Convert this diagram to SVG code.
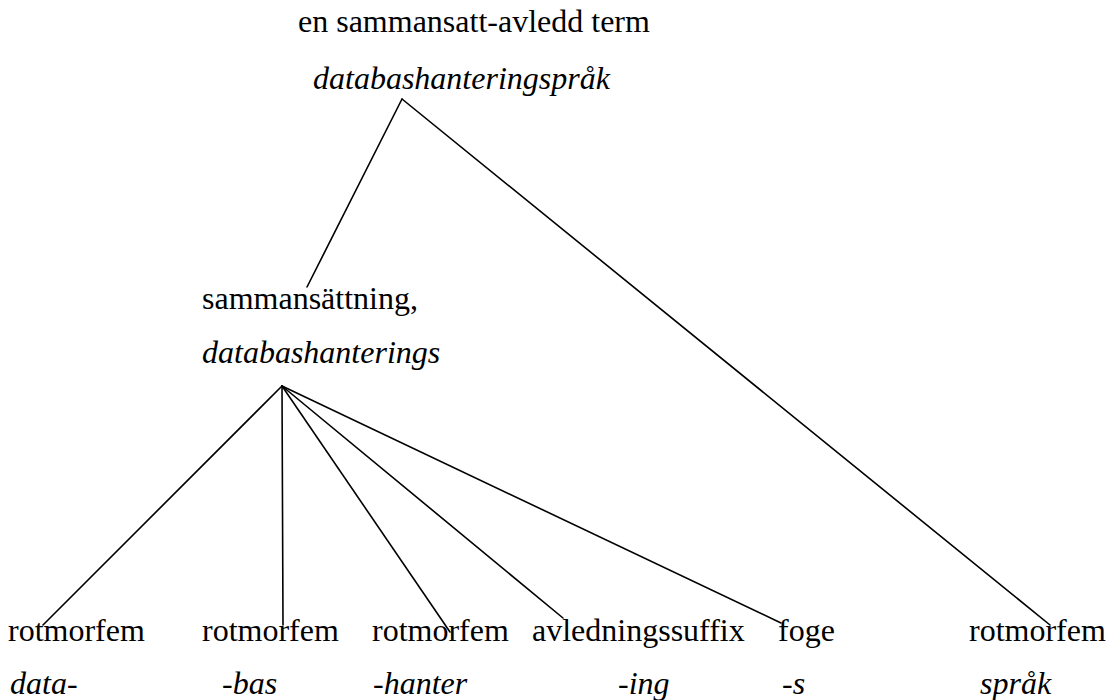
<svg xmlns="http://www.w3.org/2000/svg" width="1110" height="700" viewBox="0 0 1110 700">
  <defs>
    <style>
      .label { font-size: 32px; fill: #000; }
      .form { font-style: italic; }
      .edge { stroke: #000; stroke-width: 1.6; fill: none; stroke-linecap: round; }
    </style>
  </defs>
  <rect width="1110" height="700" fill="#fff"/>

  <!-- tree edges -->
  <g id="connectors">
    <line class="edge" x1="402" y1="99" x2="307" y2="287"/>
    <line class="edge" x1="402" y1="99" x2="1050" y2="625"/>
    <line class="edge" x1="282" y1="386" x2="43" y2="625"/>
    <line class="edge" x1="282" y1="386" x2="283" y2="625"/>
    <line class="edge" x1="282" y1="386" x2="450" y2="632"/>
    <line class="edge" x1="282" y1="386" x2="563" y2="618"/>
    <line class="edge" x1="282" y1="386" x2="781" y2="623"/>
  </g>

  <g font-family="Liberation Serif, Times New Roman, serif">
    <!-- root: the whole term -->
    <g id="node-term">
      <text class="label" x="298" y="32">en sammansatt-avledd term</text>
      <text class="label form" x="313" y="89">databashanteringspråk</text>
    </g>

    <!-- compound part -->
    <g id="node-compound">
      <text class="label" x="202" y="309">sammansättning,</text>
      <text class="label form" x="202" y="363">databashanterings</text>
    </g>

    <!-- morphemes -->
    <g id="node-data">
      <text class="label" x="8" y="641">rotmorfem</text>
      <text class="label form" x="10" y="694">data-</text>
    </g>
    <g id="node-bas">
      <text class="label" x="202" y="641">rotmorfem</text>
      <text class="label form" x="222" y="694">-bas</text>
    </g>
    <g id="node-hanter">
      <text class="label" x="372" y="641">rotmorfem</text>
      <text class="label form" x="373" y="694">-hanter</text>
    </g>
    <g id="node-ing">
      <text class="label" x="532" y="641">avledningssuffix</text>
      <text class="label form" x="618" y="694">-ing</text>
    </g>
    <g id="node-s">
      <text class="label" x="778" y="641">foge</text>
      <text class="label form" x="782" y="694">-s</text>
    </g>
    <g id="node-sprak">
      <text class="label" x="969" y="641">rotmorfem</text>
      <text class="label form" x="980" y="694">språk</text>
    </g>
  </g>
</svg>
